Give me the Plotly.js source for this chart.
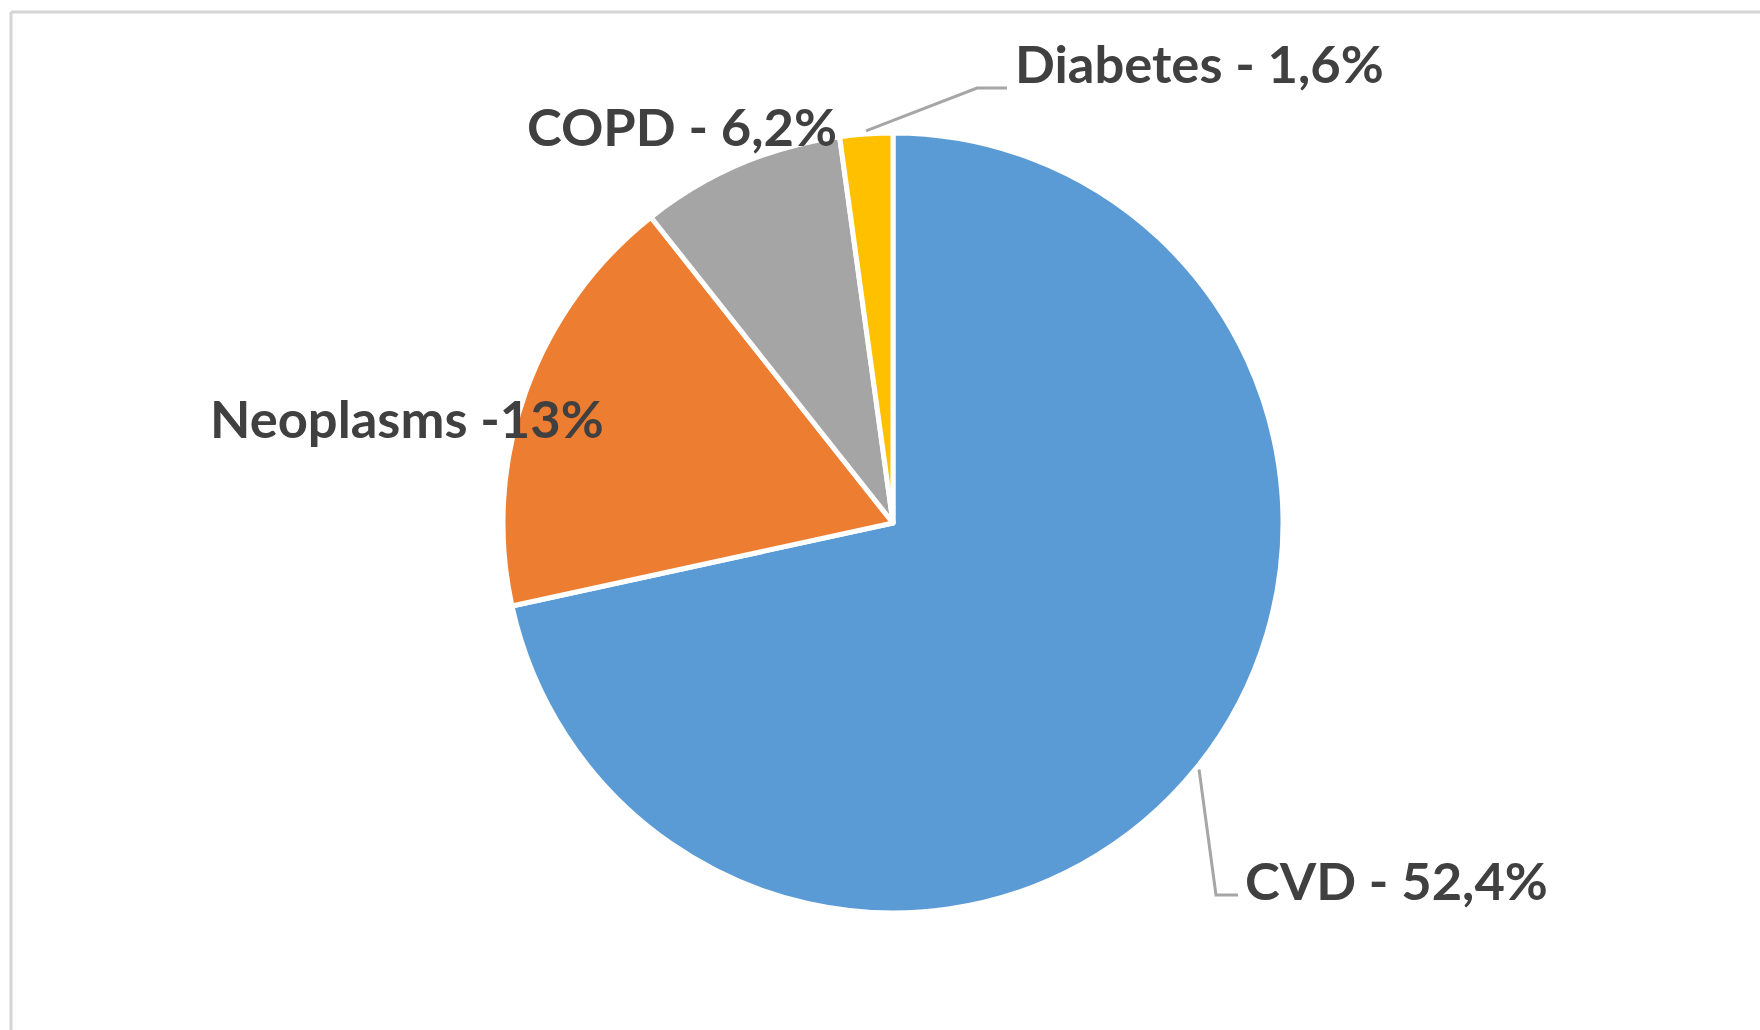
<!DOCTYPE html>
<html>
<head>
<meta charset="utf-8">
<script src="https://cdn.plot.ly/plotly-3.0.1.min.js"></script>
<style>
  html, body { margin: 0; padding: 0; background: #ffffff; }
  #chart { width: 1760px; height: 1030px; }
</style>
</head>
<body>
<div id="chart"></div>
<script>
// ---- data ----
const categories = ['CVD', 'Neoplasms', 'COPD', 'Diabetes'];
const values = [52.4, 13, 6.2, 1.6];
const labelTexts = ['CVD - 52,4%', 'Neoplasms -13%', 'COPD - 6,2%', 'Diabetes - 1,6%'];
const colors = ['#5B9BD5', '#ED7D31', '#A5A5A5', '#FFC000'];

// ---- layout constants (pixels) ----
const W = 1760, H = 1030;
const CX = 893, CY = 523, R = 390;
const px = x => x / W;
const py = y => 1 - y / H;

// label placement (left edge, vertical middle), pixels
const labelPos = {
  'CVD':       [1243, 879],
  'Neoplasms': [208, 418],
  'COPD':      [525, 126],
  'Diabetes':  [1013, 63]
};
// leader-line elbows for labels that have one
const leaders = {
  'CVD':      {elbow: [1216, 895], end: [1238, 895]},
  'Diabetes': {elbow: [977, 88],  end: [1007, 88]}
};

// mid-angle of each slice (clockwise from 12 o'clock)
const total = values.reduce((a, b) => a + b, 0);
let acc = 0;
const midAngles = values.map(v => { const m = (acc + v / 2) / total * 2 * Math.PI; acc += v; return m; });

const shapes = [
  // chart frame (top and left edges visible)
  {type: 'line', xref: 'paper', yref: 'paper', x0: px(11), x1: 1.0, y0: py(12), y1: py(12),
   line: {color: '#D4D4D4', width: 3}},
  {type: 'line', xref: 'paper', yref: 'paper', x0: px(11), x1: px(11), y0: py(12), y1: 0,
   line: {color: '#D4D4D4', width: 3}}
];
categories.forEach((c, i) => {
  const L = leaders[c];
  if (!L) return;
  const a = midAngles[i];
  const sx = CX + Math.sin(a) * (R + 3);
  const sy = CY - Math.cos(a) * (R + 3);
  shapes.push({
    type: 'path', xref: 'paper', yref: 'paper',
    path: `M ${px(sx)} ${py(sy)} L ${px(L.elbow[0])} ${py(L.elbow[1])} L ${px(L.end[0])} ${py(L.end[1])}`,
    line: {color: '#A6A6A6', width: 3}
  });
});

const annotations = categories.map((c, i) => ({
  xref: 'paper', yref: 'paper',
  x: px(labelPos[c][0]), y: py(labelPos[c][1]),
  xanchor: 'left', yanchor: 'middle',
  text: labelTexts[i], showarrow: false,
  font: {family: 'Lato, "Noto Sans", sans-serif', size: 52.5, color: '#404040', weight: 'bold'}
}));

const trace = {
  type: 'pie',
  labels: categories,
  values: values,
  sort: false,
  direction: 'clockwise',
  rotation: 0,
  textinfo: 'none',
  hoverinfo: 'label+value',
  marker: {colors: colors, line: {color: '#ffffff', width: 5}},
  domain: {x: [px(CX - R), px(CX + R)], y: [py(CY + R), py(CY - R)]},
  showlegend: false
};

const layout = {
  width: W, height: H,
  margin: {l: 0, r: 0, t: 0, b: 0},
  paper_bgcolor: '#ffffff',
  showlegend: false,
  shapes: shapes,
  annotations: annotations
};

Plotly.newPlot('chart', [trace], layout, {displayModeBar: false, staticPlot: true});
</script>
</body>
</html>
